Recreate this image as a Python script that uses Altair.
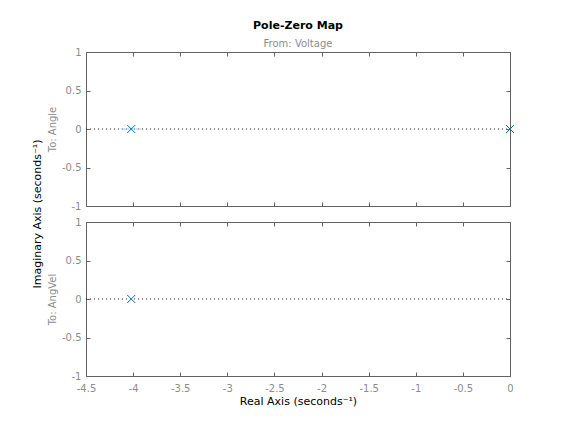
import altair as alt
import pandas as pd

# ---------------- data ----------------
x_ticks = [-4.5, -4, -3.5, -3, -2.5, -2, -1.5, -1, -0.5, 0]
y_ticks = [-1, -0.5, 0, 0.5, 1]
x_domain = [-4.5, 0]
y_domain = [-1, 1]

angle_pole_re = [-4.02, 0.0]
angle_pole_im = [0.0, 0.0]
angvel_pole_re = [-4.02]
angvel_pole_im = [0.0]

zero_line_x1 = [-4.5]
zero_line_x2 = [0.0]
zero_line_y = [0.0]

halo_x1 = [-4.13]
halo_x2 = [-3.91]
halo_y = [0.0]

title_text = "Pole-Zero Map"
input_name = "From: Voltage"
output_names = ["To: Angle", "To: AngVel"]
x_title = "Real Axis (seconds⁻¹)"
y_title = "Imaginary Axis (seconds⁻¹)"

# ---------------- style ----------------
FONT = "DejaVu Sans"
AXIS_COLOR = "#636363"
LABEL_COLOR = "#8c8c8c"
POLE_COLOR = "#0072BD"
W, H = 424, 154


def make_axis(orient, values, labels, title=None, title_color="black",
              title_size=11, label_padding=9, title_padding=4):
    kw = dict(
        orient=orient, values=values, labels=labels, grid=False,
        domainColor=AXIS_COLOR, tickColor=AXIS_COLOR, domainWidth=1, tickWidth=1,
        tickSize={"expr": "-4"}, labelColor=LABEL_COLOR, labelFont=FONT,
        labelFontSize=10, labelPadding=label_padding,
        labelExpr="toString(datum.value)",
        labelFlush=False, labelOverlap=False, titleFont=FONT,
        titleFontWeight="normal", titleColor=title_color, titleFontSize=title_size,
        titlePadding=title_padding, title=title,
    )
    return alt.Axis(**kw)


xs = alt.Scale(domain=x_domain, nice=False, zero=False)
ys = alt.Scale(domain=y_domain, nice=False, zero=False)


def panel(re, im, row_title, bottom_panel, top_panel):
    zero_df = pd.DataFrame({"x1": zero_line_x1, "x2": zero_line_x2, "y": zero_line_y})
    zero = alt.Chart(zero_df).mark_rule(strokeDash=[1, 3], color="#262626", strokeWidth=1).encode(
        x=alt.X("x1:Q", scale=xs, axis=make_axis("top", x_ticks, False)),
        x2="x2:Q",
        y=alt.Y("y:Q", scale=ys, axis=make_axis("right", y_ticks, False)),
    )
    layers = [zero]
    if top_panel:
        halo_df = pd.DataFrame({"x1": halo_x1, "x2": halo_x2, "y": halo_y})
        halo = alt.Chart(halo_df).mark_rule(color="#a9cde9", strokeWidth=1).encode(
            x=alt.X("x1:Q", scale=xs, axis=None),
            x2="x2:Q",
            y=alt.Y("y:Q", scale=ys, axis=None),
        )
        layers.append(halo)
    poles = pd.DataFrame({"re": re, "im": im})
    pts = alt.Chart(poles).mark_point(
        shape="M-1,-1L1,1M-1,1L1,-1", filled=False, size=64, strokeWidth=1,
        color=POLE_COLOR, opacity=1,
    ).encode(
        x=alt.X("re:Q", scale=xs,
                axis=make_axis("bottom", x_ticks, bottom_panel,
                               title=x_title if bottom_panel else None,
                               label_padding=11, title_padding=2)),
        y=alt.Y("im:Q", scale=ys,
                axis=make_axis("left", y_ticks, True, title=row_title,
                               title_color=LABEL_COLOR, title_size=10)),
    )
    layers.append(pts)
    if top_panel:
        lab = alt.Chart(pd.DataFrame({"t": [y_title]})).mark_text(
            angle=270, fontSize=11, font=FONT, color="black",
            align="center", baseline="middle",
        ).encode(text="t:N", x=alt.value(-48), y=alt.value(H + 8))
        layers.append(lab)
    ch = alt.layer(*layers).resolve_axis(x="independent", y="independent").properties(
        width=W, height=H)
    if top_panel:
        ch = ch.properties(title=alt.TitleParams(
            text=title_text, subtitle=input_name, font=FONT, fontSize=11,
            fontWeight="bold", color="black", subtitleFont=FONT,
            subtitleFontSize=10, subtitleColor=LABEL_COLOR, subtitlePadding=8,
            offset=-2, anchor="middle",
        ))
    return ch


top = panel(angle_pole_re, angle_pole_im, output_names[0], False, True)
bottom = panel(angvel_pole_re, angvel_pole_im, output_names[1], True, False)

chart = alt.vconcat(top, bottom, spacing=16, bounds="flush").properties(
    padding={"left": 23, "top": 11, "right": 5, "bottom": 5}
).configure_view(stroke="transparent")

chart.save("out.html", embed_options={"renderer": "svg", "actions": False})
